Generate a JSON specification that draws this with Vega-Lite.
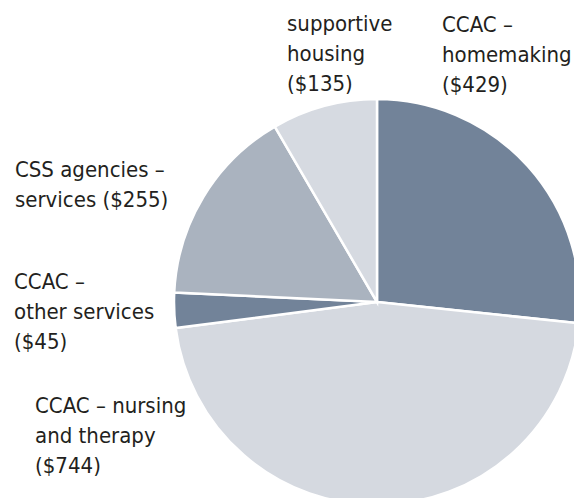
{
  "$schema": "https://vega.github.io/schema/vega-lite/v6.json",
  "width": 754,
  "height": 604,
  "padding": 0,
  "autosize": {"type": "none"},
  "background": "white",
  "view": {"stroke": null},
  "config": {"text": {"font": "DejaVu Sans Condensed, Roboto, sans-serif", "fontSize": 22}},
  "data": {
    "values": [
      {"category": "homemaking", "value": 429, "rank": 1, "label": "CCAC –\nhomemaking\n($429)"},
      {"category": "nursing", "value": 744, "rank": 2, "label": "CCAC – nursing\nand therapy\n($744)"},
      {"category": "other", "value": 45, "rank": 3, "label": "CCAC –\nother services\n($45)"},
      {"category": "css", "value": 255, "rank": 4, "label": "CSS agencies –\nservices ($255)"},
      {"category": "supportive", "value": 135, "rank": 5, "label": "supportive\nhousing\n($135)"}
    ]
  },
  "encoding": {
    "theta": {"field": "value", "type": "quantitative", "stack": true},
    "order": {"field": "rank", "type": "quantitative"}
  },
  "layer": [
    {
      "mark": {"type": "arc", "outerRadius": 203, "stroke": "white", "strokeWidth": 2.5},
      "encoding": {
        "color": {
          "field": "category", "type": "nominal", "legend": null,
          "scale": {
            "domain": ["homemaking", "nursing", "other", "css", "supportive"],
            "range": ["#728399", "#d5d9e0", "#728399", "#aab3bf", "#d6dae1"]
          }
        }
      }
    },
    {
      "mark": {"type": "text", "radius": 260, "align": "left", "baseline": "alphabetic", "lineBreak": "\n", "lineHeight": 30, "color": "#231f20", "dx": -128.3, "dy": -96.6},
      "encoding": {
        "detail": {"field": "category"},
        "text": {"condition": {"test": "datum.category === 'homemaking'", "field": "label"}, "value": ""}
      }
    },
    {
      "mark": {"type": "text", "radius": 260, "align": "left", "baseline": "alphabetic", "lineBreak": "\n", "lineHeight": 30, "color": "#231f20", "dx": -22.2, "dy": -20},
      "encoding": {
        "detail": {"field": "category"},
        "text": {"condition": {"test": "datum.category === 'supportive'", "field": "label"}, "value": ""}
      }
    },
    {
      "mark": {"type": "text", "radius": 260, "align": "left", "baseline": "alphabetic", "lineBreak": "\n", "lineHeight": 30, "color": "#231f20", "dx": -139.7, "dy": 9.5},
      "encoding": {
        "detail": {"field": "category"},
        "text": {"condition": {"test": "datum.category === 'css'", "field": "label"}, "value": ""}
      }
    },
    {
      "mark": {"type": "text", "radius": 260, "align": "left", "baseline": "alphabetic", "lineBreak": "\n", "lineHeight": 30, "color": "#231f20", "dx": -103.2, "dy": -23.4},
      "encoding": {
        "detail": {"field": "category"},
        "text": {"condition": {"test": "datum.category === 'other'", "field": "label"}, "value": ""}
      }
    },
    {
      "mark": {"type": "text", "radius": 260, "align": "left", "baseline": "alphabetic", "lineBreak": "\n", "lineHeight": 30, "color": "#231f20", "dx": -345, "dy": -148.7},
      "encoding": {
        "detail": {"field": "category"},
        "text": {"condition": {"test": "datum.category === 'nursing'", "field": "label"}, "value": ""}
      }
    }
  ]
}
